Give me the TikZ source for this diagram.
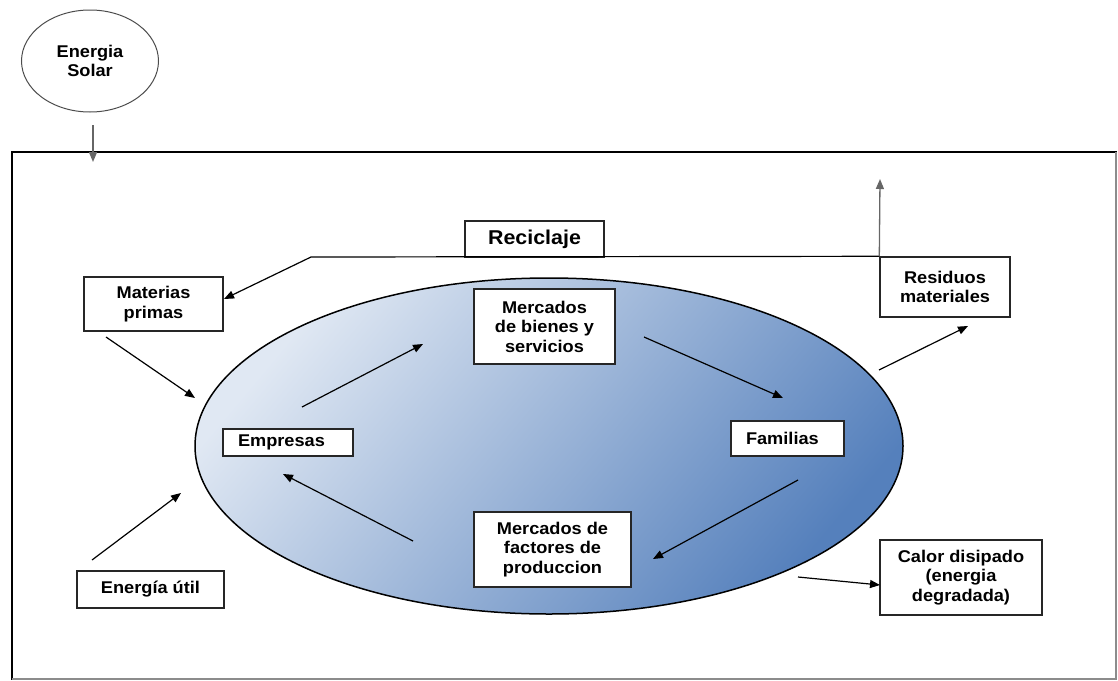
\documentclass[tikz,border=0pt]{standalone}
\usepackage{fontspec}
\setmainfont[FakeStretch=1.07]{Liberation Sans}
\usetikzlibrary{shapes.geometric,arrows.meta}
\definecolor{ecolight}{HTML}{E0E8F3}
\definecolor{ecodark}{HTML}{5580BC}
\newcommand{\lblfont}{\fontsize{17}{19.5}\selectfont\bfseries}
\begin{document}
\begin{tikzpicture}[x=1pt,y=-1pt,
  box/.style={draw=black!85, line width=1.4pt, fill=white, align=center, inner sep=0pt, font=\lblfont},
  leftbox/.style={box, align=left, inner xsep=15pt, inner ysep=0pt},
  arr/.style={line width=1.2pt, -{Triangle[length=10pt,width=8pt]}},
  grayarr/.style={arr, draw=black!60, line width=1.3pt}]
\useasboundingbox (0,0) rectangle (1118,680);
% frame
\coordinate (fbl) at (12,679);
\coordinate (ftl) at (12,152);
\coordinate (ftr) at (1116,152);
\coordinate (fbr) at (1116,679);
\draw[line width=2.4pt, line cap=rect] (fbl) -- (ftl) -- (ftr);
\draw[line width=1.2pt, black!45] (ftr) -- (fbr) -- (fbl);
% economy ellipse
\node[ellipse, draw, line width=1.5pt, minimum width=708pt, minimum height=336pt,
  top color=ecolight, bottom color=ecodark, shading angle=50] (eco) at (549,446) {};
% energy sun
\node[ellipse, draw=black!70, line width=1pt, minimum width=137pt, minimum height=102pt,
  align=center, font=\lblfont] (solar) at (90,61) {Energia\\Solar};
% boxes
\node[box, minimum width=139pt, minimum height=54pt] (materias) at (153.5,304) {Materias\\primas};
\node[box, minimum width=139pt, minimum height=36pt, font=\fontsize{20}{24}\selectfont\bfseries] (reciclaje) at (534.5,239) {Reciclaje};
\node[box, minimum width=130pt, minimum height=60pt] (residuos) at (945,287) {Residuos\\materiales};
\node[box, minimum width=141pt, minimum height=75pt] (bienes) at (544.5,326.5) {Mercados\\de bienes y\\servicios};
\node[leftbox, text width=100pt, minimum height=27pt] (empresas) at (288,442.5) {Empresas};
\node[leftbox, text width=83pt, minimum height=35pt] (familias) at (787.5,438.5) {Familias};
\node[box, minimum width=157pt, minimum height=75pt] (factores) at (552.5,549.5) {Mercados de\\factores de\\produccion};
\node[box, minimum width=147pt, minimum height=37pt] (util) at (150.5,589.5) {Energía útil};
\node[box, minimum width=162pt, minimum height=75pt] (calor) at (961,577.5) {Calor disipado\\(energia\\degradada)};
% connector end points
\coordinate (s1) at (93,125);
\coordinate (s2) at (93,162);
\coordinate (rbend) at (311,257);
\coordinate (mtip) at (224,299);
\coordinate (rup) at (880,179);
\coordinate (e1) at (879,370);
\coordinate (e1t) at (968,326);
\coordinate (m1) at (106,337);
\coordinate (m1t) at (195,398);
\coordinate (u1) at (92,560);
\coordinate (u1t) at (181,493);
\coordinate (a1) at (302,407);
\coordinate (a1t) at (423,344);
\coordinate (a2) at (644,337);
\coordinate (a2t) at (783,398);
\coordinate (a3) at (798,480);
\coordinate (a3t) at (653,559);
\coordinate (a4) at (413,541);
\coordinate (a4t) at (283,474);
\coordinate (c1) at (798,577);
\coordinate (c1t) at (880,585);
% connectors
\draw[grayarr] (s1) -- (s2);
\draw[arr] (residuos.north west) -- (rbend) -- (mtip);
\draw[grayarr] (residuos.north west) -- (rup);
\draw[arr] (e1) -- (e1t);
\draw[arr] (m1) -- (m1t);
\draw[arr] (u1) -- (u1t);
\draw[arr] (a1) -- (a1t);
\draw[arr] (a2) -- (a2t);
\draw[arr] (a3) -- (a3t);
\draw[arr] (a4) -- (a4t);
\draw[arr] (c1) -- (c1t);
\end{tikzpicture}
\end{document}
